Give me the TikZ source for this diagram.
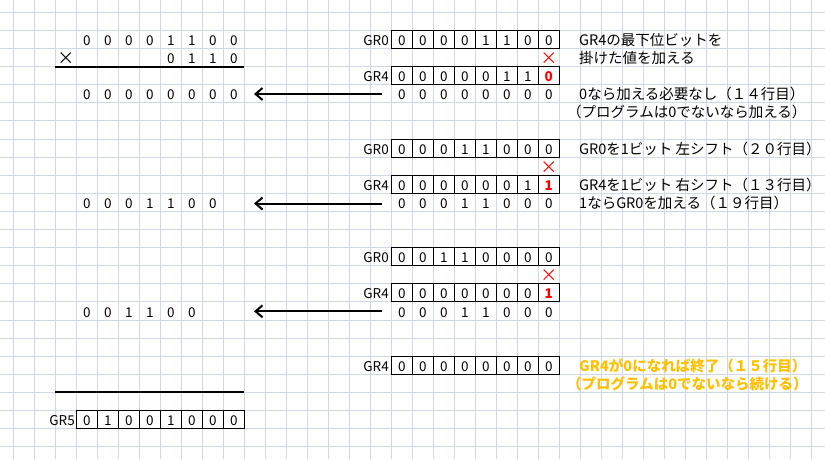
\documentclass[tikz,border=0pt]{standalone}
\usepackage{fontspec}
\setmainfont{Noto Sans CJK JP}
\usetikzlibrary{arrows.meta}
\definecolor{gridc}{RGB}{208,215,229}
\definecolor{warnc}{RGB}{255,192,0}
\definecolor{redc}{RGB}{255,0,0}
\newcommand\digfont{\fontsize{13.5}{13.5}\selectfont}
\newcommand\mulfont{\fontsize{17}{17}\selectfont}
\newcommand\notefont{\fontsize{14.5}{14.5}\selectfont}
% digit row: #1 name prefix, #2 first column, #3 row, #4 list
\newcommand\mydigrow[4]{%
  \foreach \d [count=\i from 0] in {#4} {
    \node[digit] (#1-\i) at ({23.8+21*(#2+\i)},{27.4+18.1*#3}) {\d};
  }}
% register box: #1 first column, #2 row
\newcommand\myregbox[2]{%
  \draw[cellline] ({13.3+21*#1},{12.3+18.1*#2}) rectangle ({13.3+21*(#1+8)},{12.3+18.1*(#2+1)});
  \foreach \m in {1,...,7} {\draw[cellline] ({13.3+21*(#1+\m)},{12.3+18.1*#2}) -- ++(0,18.1);}
}
\newcommand\rd[1]{{\color{redc}\bfseries #1}}
\newcommand\rdmul{{\color{redc}×}}
\begin{document}
\begin{tikzpicture}[x=1pt,y=-1pt,
  gridline/.style={draw=gridc,line width=1pt},
  cellline/.style={draw=black,line width=1pt},
  sumline/.style={draw=black,line width=2pt},
  digit/.style={font=\digfont,anchor=base,inner sep=0pt},
  mulsign/.style={font=\mulfont,anchor=base,inner sep=0pt},
  reglabel/.style={font=\digfont,anchor=base east,inner sep=0pt},
  note/.style={font=\notefont,anchor=base west,inner sep=0pt},
  warnnote/.style={note,text=warnc,font=\notefont\bfseries},
  arr/.style={draw=black,line width=2pt,-{Straight Barb[length=7pt,width=12pt,line width=2pt]}}]
\useasboundingbox (0,0) rectangle (825,459);
\fill[white] (0,0) rectangle (825,459);
% grid
\foreach \j in {0,...,38} {\draw[gridline] ({13.3+21*\j},0) -- ({13.3+21*\j},459);}
\foreach \k in {0,...,24} {\draw[gridline] (0,{12.3+18.1*\k}) -- (825,{12.3+18.1*\k});}

% ---------- left column ----------
\mydigrow{la}{3}{1}{0,0,0,0,1,1,0,0}
\node[mulsign] (lmul) at (65.8,{28.4+18.1*2}) {×};
\mydigrow{lb}{7}{2}{0,1,1,0}
\coordinate (s1a) at (55.3,66.6);
\coordinate (s1b) at (244.3,66.6);
\draw[sumline] (s1a) -- (s1b);
\mydigrow{lc}{3}{4}{0,0,0,0,0,0,0,0}
\mydigrow{ld}{3}{10}{0,0,0,1,1,0,0}
\mydigrow{le}{3}{16}{0,0,1,1,0,0}
\coordinate (s2a) at (55.3,392.3);
\coordinate (s2b) at (244.3,392.3);
\draw[sumline] (s2a) -- (s2b);
\node[reglabel] (gr5) at (75,{27.4+18.1*22}) {GR5};
\myregbox{3}{22}
\mydigrow{lf}{3}{22}{0,1,0,0,1,0,0,0}

% ---------- right column: block 1 ----------
\node[reglabel] (b1gr0) at (389,{27.4+18.1*1}) {GR0};
\myregbox{18}{1}
\mydigrow{ra}{18}{1}{0,0,0,0,1,1,0,0}
\node[mulsign] (rmul1) at ({23.8+21*25},{28.4+18.1*2}) {\rdmul};
\node[reglabel] (b1gr4) at (389,{27.4+18.1*3}) {GR4};
\myregbox{18}{3}
\mydigrow{rb}{18}{3}{0,0,0,0,0,1,1,\rd{0}}
\mydigrow{rc}{18}{4}{0,0,0,0,0,0,0,0}
\coordinate (a1s) at (381.7,94);
\coordinate (a1e) at (254,94);
\draw[arr] (a1s) -- (a1e);

% ---------- block 2 ----------
\node[reglabel] (b2gr0) at (389,{27.4+18.1*7}) {GR0};
\myregbox{18}{7}
\mydigrow{rd}{18}{7}{0,0,0,1,1,0,0,0}
\node[mulsign] (rmul2) at ({23.8+21*25},{28.4+18.1*8}) {\rdmul};
\node[reglabel] (b2gr4) at (389,{27.4+18.1*9}) {GR4};
\myregbox{18}{9}
\mydigrow{re}{18}{9}{0,0,0,0,0,0,1,\rd{1}}
\mydigrow{rf}{18}{10}{0,0,0,1,1,0,0,0}
\coordinate (a2s) at (381.7,203.5);
\coordinate (a2e) at (254,203.5);
\draw[arr] (a2s) -- (a2e);

% ---------- block 3 ----------
\node[reglabel] (b3gr0) at (389,{27.4+18.1*13}) {GR0};
\myregbox{18}{13}
\mydigrow{rg}{18}{13}{0,0,1,1,0,0,0,0}
\node[mulsign] (rmul3) at ({23.8+21*25},{28.4+18.1*14}) {\rdmul};
\node[reglabel] (b3gr4) at (389,{27.4+18.1*15}) {GR4};
\myregbox{18}{15}
\mydigrow{rh}{18}{15}{0,0,0,0,0,0,0,\rd{1}}
\mydigrow{ri}{18}{16}{0,0,0,1,1,0,0,0}
\coordinate (a3s) at (381.7,311.3);
\coordinate (a3e) at (254,311.3);
\draw[arr] (a3s) -- (a3e);

% ---------- block 4 ----------
\node[reglabel] (b4gr4) at (389,{27.4+18.1*19}) {GR4};
\myregbox{18}{19}
\mydigrow{rj}{18}{19}{0,0,0,0,0,0,0,0}

% ---------- notes ----------
\node[note] (n1) at (579,{27.4+18.1*1}) {GR4の最下位ビットを};
\node[note] (n2) at (579,{27.4+18.1*2}) {掛けた値を加える};
\node[note] (n3) at (579,{27.4+18.1*4}) {0なら加える必要なし（１４行目）};
\node[note] (n4) at (567,{27.4+18.1*5}) {（プログラムは0でないなら加える）};
\node[note] (n5) at (579,{27.4+18.1*7}) {GR0を1ビット 左シフト（２０行目）};
\node[note] (n6) at (579,{27.4+18.1*9}) {GR4を1ビット 右シフト（１３行目）};
\node[note] (n7) at (579,{27.4+18.1*10}) {1ならGR0を加える（１９行目）};
\node[warnnote] (n8) at (579,{27.4+18.1*19}) {GR4が0になれば終了（１５行目）};
\node[warnnote] (n9) at (567,{27.4+18.1*20}) {（プログラムは0でないなら続ける）};
\end{tikzpicture}
\end{document}
